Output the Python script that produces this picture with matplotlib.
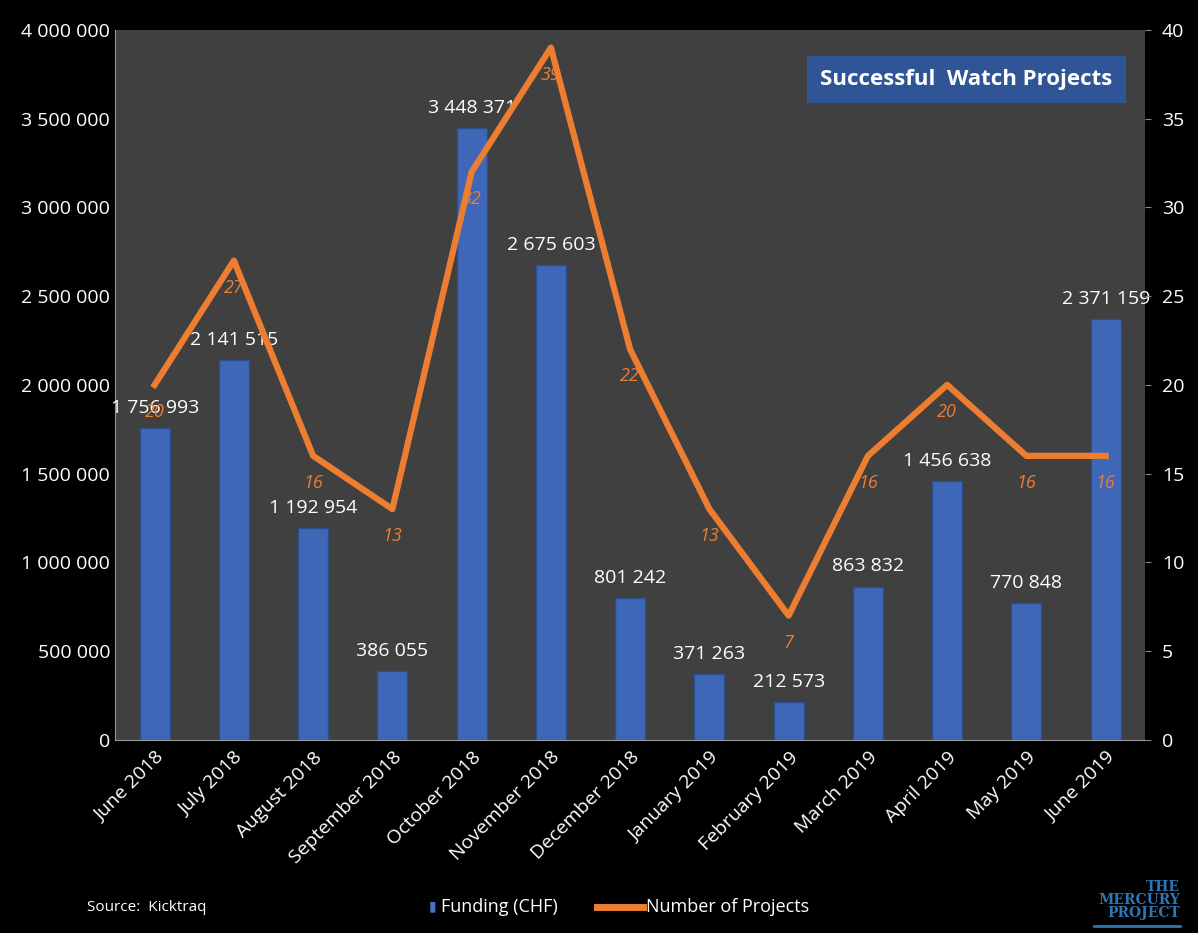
import matplotlib.pyplot as plt
from matplotlib.ticker import FuncFormatter

months = ["June 2018", "July 2018", "August 2018", "September 2018", "October 2018",
          "November 2018", "December 2018", "January 2019", "February 2019",
          "March 2019", "April 2019", "May 2019", "June 2019"]
funding = [1756993, 2141515, 1192954, 386055, 3448371, 2675603, 801242,
           371263, 212573, 863832, 1456638, 770848, 2371159]
projects = [20, 27, 16, 13, 32, 39, 22, 13, 7, 16, 20, 16, 16]

plt.rcParams['font.family'] = ['Open Sans', 'DejaVu Sans']

def spaced(v, pos=None):
    return f"{int(v):,}".replace(",", " ")

fig = plt.figure(figsize=(11.98, 9.33), dpi=100, facecolor="black")
ax = fig.add_axes([0.096, 0.207, 0.86, 0.761])
ax.set_facecolor("#404040")
ax2 = ax.twinx()

x = list(range(len(months)))
bars = ax.bar(x, funding, width=0.38, color="#3F67B8", edgecolor="#2E4F8F", linewidth=1, zorder=2)
ax.set_ylim(0, 4000000)
ax.set_xlim(-0.5, len(months) - 0.5)
ax.yaxis.set_major_formatter(FuncFormatter(spaced))
ax.set_yticks(range(0, 4000001, 500000))
ax.set_xticks(x)
ax.set_xticklabels(months, rotation=45, ha="right", rotation_mode="anchor")

for xi, v in zip(x, funding):
    ax.annotate(spaced(v), (xi, v), xytext=(0, 8), textcoords="offset points",
                ha="center", va="bottom", color="white", fontsize=14)

ax2.plot(x, projects, color="#ED7D31", linewidth=4.5, zorder=3)
ax2.set_ylim(0, 40)
ax2.set_yticks(range(0, 41, 5))
for xi, v in zip(x, projects):
    ax2.annotate(str(v), (xi, v), xytext=(0, -13), textcoords="offset points",
                 ha="center", va="top", color="#ED7D31", fontsize=13, style="italic")

for a in (ax, ax2):
    a.tick_params(colors="white", labelsize=14, length=0)
    for s in a.spines.values():
        s.set_visible(False)
ax2.tick_params(axis="y", length=4, color="#888888", pad=8)
ax.tick_params(axis="x", pad=6)
ax.spines["left"].set_visible(True)
ax.spines["left"].set_color("#999999")
ax.spines["bottom"].set_visible(True)
ax.spines["bottom"].set_color("#999999")

ax.text(0.968, 0.93, "Successful  Watch Projects", transform=ax.transAxes,
        ha="right", va="center", color="white", fontsize=16, fontweight="bold",
        bbox=dict(boxstyle="square,pad=0.6", facecolor="#2F5597", edgecolor="none"), zorder=5)

fig.text(0.073, 0.027, "Source:  Kicktraq", color="white", fontsize=11, va="center")
fig.text(0.358, 0.028, "\u25AE", color="#4472C4", fontsize=10, va="center")
fig.text(0.368, 0.028, "Funding (CHF)", color="white", fontsize=13, va="center")
fig.add_artist(plt.Line2D([0.498, 0.537], [0.028, 0.028], color="#ED7D31", linewidth=5,
                          transform=fig.transFigure))
fig.text(0.539, 0.028, "Number of Projects", color="white", fontsize=13, va="center")
fig.text(0.985, 0.035, "THE\nMERCURY\nPROJECT", color="#2E75B6", fontsize=10,
         fontweight="bold", family="DejaVu Serif", ha="right", va="center",
         linespacing=0.9)
fig.add_artist(plt.Line2D([0.913, 0.985], [0.007, 0.007], color="#2E75B6", linewidth=2,
                          transform=fig.transFigure))

fig.savefig("out.png", dpi=100, facecolor="black")
